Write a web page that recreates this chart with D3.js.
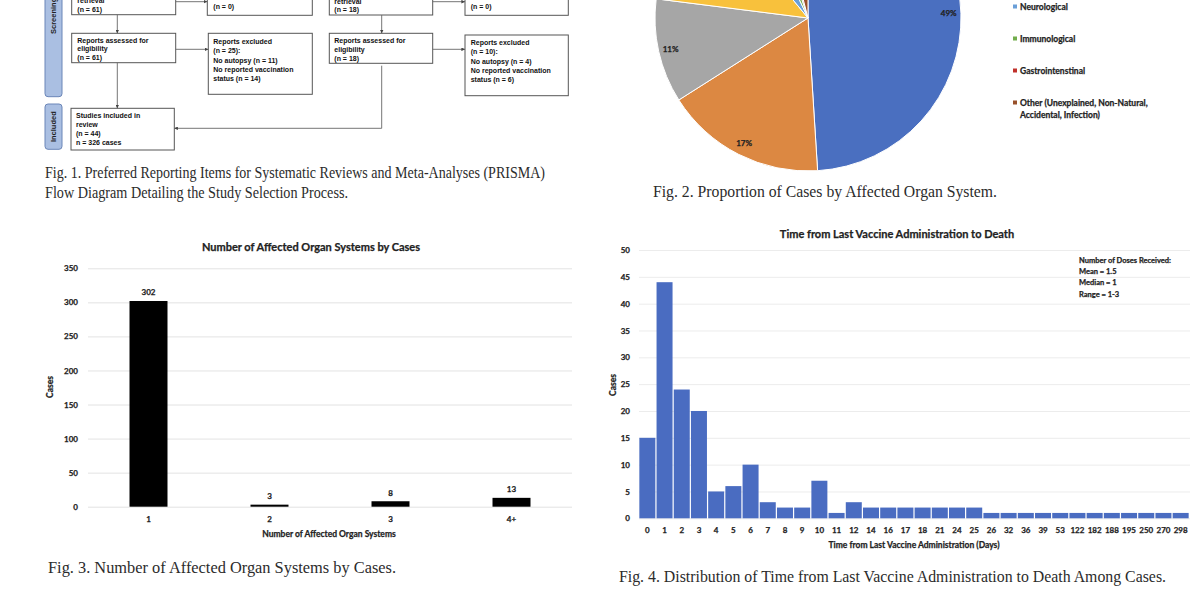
<!DOCTYPE html>
<html>
<head>
<meta charset="utf-8">
<script src="https://cdn.jsdelivr.net/npm/d3@7"></script>
<style>
body { margin: 0; background: #fff; }
text { font-family: Lato, "Open Sans", sans-serif; }
.heavy { stroke: #222; stroke-width: 0.25px; }
</style>
</head>
<body>
<svg id="chart" width="1200" height="600"></svg>
<script>
// fig 1 - PRISMA box texts (top lines run off the picture like the reference)
var boxA = ["retrieval", "(n = 61)"];
var boxB = ["(n = 0)"];
var boxC = ["Reports assessed for", "eligibility", "(n = 61)"];
var boxD = ["Reports excluded", "(n = 25):", "No autopsy (n = 11)", "No reported vaccination", "status (n = 14)"];
var boxE = ["Studies included in", "review", "(n = 44)", "n = 326 cases"];
var boxF = ["retrieval", "(n = 18)"];
var boxH = ["(n = 0)"];
var boxG = ["Reports assessed for", "eligibility", "(n = 18)"];
var boxI = ["Reports excluded", "(n = 10):", "No autopsy (n = 4)", "No reported vaccination", "status (n = 6)"];

// fig 2 - organ systems (percent)
var organSystems = ["Cardiovascular", "Hematological", "Respiratory", "Multiple Organs",
  "Neurological", "Immunological", "Gastrointenstinal", "Other (Unexplained, Non-Natural,|Accidental, Infection)"];
var organShares = [49, 17, 11, 12, 4, 2, 1, 4];
var organColors = ["#4a6fc0", "#dc8842", "#a6a6a6", "#f8c13c", "#6a9fd8", "#72ad4c", "#c0302b", "#98502a"];

// fig 3 - number of affected organ systems
var systemCats = ["1", "2", "3", "4+"];
var systemCases = [302, 3, 8, 13];
var systemTicks = [0, 50, 100, 150, 200, 250, 300, 350];

// fig 4 - days from last dose to death
var dayCats = ["0","1","2","3","4","5","6","7","8","9","10","11","12","14","16","17","18","21","24","25",
  "26","32","36","39","53","122","182","188","195","250","270","298"];
var dayCases = [15,44,24,20,5,6,10,3,2,2,7,1,3,2,2,2,2,2,2,2,1,1,1,1,1,1,1,1,1,1,1,1];
var dayTicks = [0,5,10,15,20,25,30,35,40,45,50];
var doseNotes = ["Number of Doses Received:", "Mean = 1.5", "Median = 1", "Range = 1-3"];

var svg = d3.select("#chart");
var ink = "#222";

// ---------- Fig 1 flow diagram ----------
var f1 = svg.append("g");
svg.append("defs").append("marker")
   .attr("id", "ah").attr("viewBox", "0 0 6 6").attr("refX", 6).attr("refY", 3)
   .attr("markerWidth", 4).attr("markerHeight", 4).attr("orient", "auto")
   .append("path").attr("d", "M0,0L6,3L0,6Z").attr("fill", "#444");

function box(x, y, w, h, lines, tx, firstBase, gap) {
  f1.append("rect").attr("x", x).attr("y", y).attr("width", w).attr("height", h)
    .attr("fill", "#fff").attr("stroke", "#555").attr("stroke-width", 1);
  f1.selectAll(null).data(lines).enter().append("text")
    .attr("x", tx).attr("y", function(d, i) { return firstBase + i * gap; })
    .style("font-family", "'Liberation Sans', Arial, sans-serif")
    .style("font-weight", "bold").style("font-size", "7px").attr("fill", "#111")
    .text(function(d) { return d; });
}
function link(pts, arrow) {
  var p = f1.append("path").attr("d", d3.line()(pts)).attr("fill", "none")
    .attr("stroke", "#666").attr("stroke-width", 0.9);
  if (arrow) p.attr("marker-end", "url(#ah)");
}

// side labels
f1.append("rect").attr("x", 45).attr("y", -40).attr("width", 17).attr("height", 136.7).attr("rx", 3)
  .attr("fill", "#aabfe2").attr("stroke", "#6b86b8");
f1.append("rect").attr("x", 45).attr("y", 104).attr("width", 17).attr("height", 45.3).attr("rx", 3)
  .attr("fill", "#aabfe2").attr("stroke", "#6b86b8");
f1.append("text").attr("transform", "translate(56,34) rotate(-90)")
  .style("font-family", "'Liberation Sans', Arial, sans-serif").style("font-weight", "bold")
  .style("font-size", "7.5px").attr("fill", "#222").text("Screening");
f1.append("text").attr("transform", "translate(56,126.7) rotate(-90)").attr("text-anchor", "middle")
  .style("font-family", "'Liberation Sans', Arial, sans-serif").style("font-weight", "bold")
  .style("font-size", "7.5px").attr("fill", "#222").text("Included");

box(71.7, -30, 104, 44.7, boxA, 77.3, 3.1, 8.7);
box(207.3, -30, 105, 45.3, boxB, 213.3, 8.5, 8.7);
box(71.7, 33.3, 104, 29.4, boxC, 77.3, 42.5, 8.7);
box(208.3, 33.3, 104, 61, boxD, 213.3, 44.2, 9.25);
box(71, 108.3, 103.3, 41.7, boxE, 76, 118.2, 9);
box(329.3, -30, 103.4, 45, boxF, 334.3, 3.5, 8.7);
box(465, -30, 103.3, 45.3, boxH, 470.7, 8.5, 8.7);
box(329.3, 33.3, 103.4, 30, boxG, 334.3, 43.2, 8.7);
box(465, 35, 103.3, 60.7, boxI, 470.7, 45.2, 9.2);

link([[175.7, 1.7], [207.3, 1.7]], true);
link([[117.3, 14.7], [117.3, 33.3]], true);
link([[175.7, 49.3], [208.3, 49.3]], true);
link([[117.3, 62.7], [117.3, 108.3]], true);
link([[432.7, 1.7], [465, 1.7]], true);
link([[381.7, 15], [381.7, 33.3]], true);
link([[432.7, 49.3], [465, 49.3]], true);
link([[381.7, 65.7], [381.7, 128.3], [174.3, 128.3]], true);

// ---------- Fig 2 pie ----------
var pcx = 808, pcy = 18, pr = 153;
var pie = d3.pie().sort(null).value(function(d) { return d; });
var arcs = pie(organShares);
var arc = d3.arc().innerRadius(0).outerRadius(pr);
var labelArc = d3.arc().innerRadius(pr * 0.92).outerRadius(pr * 0.92);
var f2 = svg.append("g").attr("transform", "translate(" + pcx + "," + pcy + ")");
f2.selectAll("path").data(arcs).enter().append("path")
  .attr("d", arc)
  .attr("fill", function(d, i) { return organColors[i]; })
  .attr("stroke", "#fff").attr("stroke-width", 1);
// only the labels that fall inside the picture (the top of the pie is cropped)
f2.selectAll("text").data(arcs.filter(function(d) { return labelArc.centroid(d)[1] + pcy > 0; }))
  .enter().append("text").attr("class", "heavy")
  .attr("transform", function(d) { return "translate(" + labelArc.centroid(d) + ")"; })
  .attr("text-anchor", "middle").attr("dy", "0.35em")
  .style("font-weight", "bold").style("font-size", "8px").attr("fill", ink)
  .text(function(d) { return d.data + "%"; });

var leg = svg.append("g");
organSystems.forEach(function(name, i) {
  var yy = 7 + (i - 4) * 32;
  if (yy < 0) return; // legend entries above the crop
  leg.append("rect").attr("x", 1013).attr("y", yy - 2.5).attr("width", 4).attr("height", 4)
    .attr("fill", organColors[i]);
  name.split("|").forEach(function(part, j) {
    leg.append("text").attr("class", "heavy").attr("x", 1020).attr("y", yy + 3 + j * 12)
      .style("font-weight", "bold").style("font-size", "8.5px").attr("fill", ink).text(part);
  });
});

// ---------- Fig 3 bars ----------
var f3 = svg.append("g");
var x3 = d3.scaleBand().domain(systemCats).range([88, 572]).paddingInner(0.686).paddingOuter(0.343);
var y3 = d3.scaleLinear().domain([0, 350]).range([506.7, 268.3]);

var g3y = f3.append("g").attr("transform", "translate(88,0)")
  .call(d3.axisLeft(y3).tickValues(systemTicks).tickSizeInner(-484).tickSizeOuter(0).tickPadding(10));
g3y.select(".domain").remove();
g3y.selectAll("line").attr("stroke", "#e3e3e3");
g3y.selectAll("text").attr("class", "heavy").style("font-family", "Lato").style("font-weight", "bold").style("font-size", "8px").attr("fill", ink);

f3.selectAll("rect").data(systemCases).enter().append("rect")
  .attr("x", function(d, i) { return x3(systemCats[i]); })
  .attr("y", function(d) { return y3(d); })
  .attr("width", x3.bandwidth())
  .attr("height", function(d) { return y3(0) - y3(d); })
  .attr("fill", "#000");
f3.selectAll(".val").data(systemCases).enter().append("text").attr("class", "val heavy")
  .attr("x", function(d, i) { return x3(systemCats[i]) + x3.bandwidth() / 2; })
  .attr("y", function(d) { return y3(d) - 5.5; })
  .attr("text-anchor", "middle").style("font-weight", "bold").style("font-size", "8px").attr("fill", ink)
  .text(function(d) { return d; });

var g3x = f3.append("g").attr("transform", "translate(0,506.7)")
  .call(d3.axisBottom(x3).tickSize(0).tickPadding(10));
g3x.select(".domain").remove();
g3x.selectAll("text").attr("class", "heavy").style("font-family", "Lato").style("font-weight", "bold").style("font-size", "8px").attr("fill", ink);

f3.append("text").attr("class", "heavy").attr("x", 311).attr("y", 251).attr("text-anchor", "middle")
  .style("font-weight", "bold").style("font-size", "11px").attr("fill", ink)
  .text("Number of Affected Organ Systems by Cases");
f3.append("text").attr("class", "heavy").attr("x", 329).attr("y", 537).attr("text-anchor", "middle")
  .style("font-weight", "bold").style("font-size", "8.5px").attr("fill", ink)
  .text("Number of Affected Organ Systems");
f3.append("text").attr("class", "heavy").attr("transform", "translate(53,387) rotate(-90)").attr("text-anchor", "middle")
  .style("font-weight", "bold").style("font-size", "8.5px").attr("fill", ink).text("Cases");

// ---------- Fig 4 histogram ----------
var f4 = svg.append("g");
var x4 = d3.scaleBand().domain(dayCats).range([639, 1189]).paddingInner(0.07).paddingOuter(0.02);
var y4 = d3.scaleLinear().domain([0, 50]).range([518.3, 250]);

var g4y = f4.append("g").attr("transform", "translate(639,0)")
  .call(d3.axisLeft(y4).tickValues(dayTicks).tickSizeInner(-551).tickSizeOuter(0).tickPadding(9));
g4y.select(".domain").remove();
g4y.selectAll("line").attr("stroke", "#ececec");
g4y.selectAll("text").attr("class", "heavy").style("font-family", "Lato").style("font-weight", "bold").style("font-size", "8px").attr("fill", ink);

f4.selectAll("rect").data(dayCases).enter().append("rect")
  .attr("x", function(d, i) { return x4(dayCats[i]); })
  .attr("y", function(d) { return y4(d); })
  .attr("width", x4.bandwidth())
  .attr("height", function(d) { return y4(0) - y4(d); })
  .attr("fill", "#4a6cc1");

var g4x = f4.append("g").attr("transform", "translate(0,518.3)")
  .call(d3.axisBottom(x4).tickSize(0).tickPadding(9));
g4x.select(".domain").remove();
g4x.selectAll("text").attr("class", "heavy").style("font-family", "Lato").style("font-weight", "bold").style("font-size", "8px").attr("fill", ink);

f4.append("text").attr("class", "heavy").attr("x", 897).attr("y", 238).attr("text-anchor", "middle")
  .style("font-weight", "bold").style("font-size", "11px").attr("fill", ink)
  .text("Time from Last Vaccine Administration to Death");
f4.append("text").attr("class", "heavy").attr("x", 914).attr("y", 548).attr("text-anchor", "middle")
  .style("font-weight", "bold").style("font-size", "8.5px").attr("fill", ink)
  .text("Time from Last Vaccine Administration (Days)");
f4.append("text").attr("class", "heavy").attr("transform", "translate(616,385) rotate(-90)").attr("text-anchor", "middle")
  .style("font-weight", "bold").style("font-size", "8.5px").attr("fill", ink).text("Cases");
f4.selectAll(".note").data(doseNotes).enter().append("text").attr("class", "note heavy")
  .attr("x", 1079).attr("y", function(d, i) { return 262.5 + i * 11.4; })
  .style("font-weight", "bold").style("font-size", "7.5px").attr("fill", ink)
  .text(function(d) { return d; });

// ---------- captions ----------
var captions = [
  {t: "Fig. 1. Preferred Reporting Items for Systematic Reviews and Meta-Analyses (PRISMA)", x: 45, y: 178, w: 500},
  {t: "Flow Diagram Detailing the Study Selection Process.", x: 45, y: 198, w: 303},
  {t: "Fig. 2. Proportion of Cases by Affected Organ System.", x: 653, y: 197, w: 344},
  {t: "Fig. 3. Number of Affected Organ Systems by Cases.", x: 48, y: 573, w: 348},
  {t: "Fig. 4. Distribution of Time from Last Vaccine Administration to Death Among Cases.", x: 619, y: 582, w: 547}
];
svg.selectAll(".cap").data(captions).enter().append("text").attr("class", "cap")
  .attr("x", function(d) { return d.x; }).attr("y", function(d) { return d.y; })
  .attr("textLength", function(d) { return d.w; }).attr("lengthAdjust", "spacingAndGlyphs")
  .style("font-family", "'Liberation Serif', serif").style("font-size", "16px").attr("fill", "#2b2b2b")
  .text(function(d) { return d.t; });
</script>
</body>
</html>
